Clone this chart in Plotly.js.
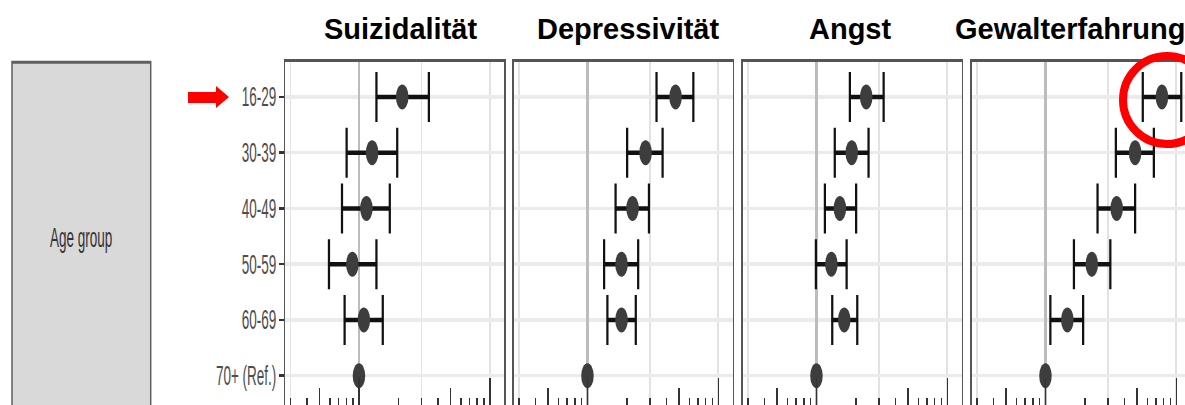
<!DOCTYPE html>
<html><head><meta charset="utf-8">
<script src="https://cdn.plot.ly/plotly-3.0.1.min.js"></script>
<style>
html,body{margin:0;padding:0;width:1185px;height:405px;overflow:hidden;background:#fff;}
#wrap{position:relative;width:1185px;height:405px;overflow:hidden;}
#base{position:absolute;left:0;top:0;width:2400px;height:430px;transform:scaleX(0.5);transform-origin:0 0;}
#over{position:absolute;left:0;top:0;width:1185px;height:405px;}
</style></head><body>
<div id="wrap"><div id="base"></div><div id="over"></div></div>
<script>
// ---------- data ----------
const ageGroups = ['16-29', '30-39', '40-49', '50-59', '60-69', '70+ (Ref.)'];
const refGroup = '70+ (Ref.)';
const outcomes = ['Suizidalität', 'Depressivität', 'Angst', 'Gewalterfahrung'];
const stripLabel = 'Age group';

const estSuizidalitaet  = [2.14, 1.26, 1.14, 0.89, 1.09, 1];
const lowSuizidalitaet  = [1.36, 0.805, 0.742, 0.59, 0.777, 1];
const highSuizidalitaet = [3.42, 1.96, 1.72, 1.36, 1.52, 1];

const estDepressivitaet  = [4.71, 2.78, 2.21, 1.82, 1.82, 1];
const lowDepressivitaet  = [3.37, 2.01, 1.64, 1.34, 1.42, 1];
const highDepressivitaet = [6.44, 3.75, 2.95, 2.44, 2.34, 1];

const estAngst  = [2.40, 1.86, 1.51, 1.30, 1.63, 1];
const lowAngst  = [1.80, 1.38, 1.16, 0.99, 1.32, 1];
const highAngst = [3.26, 2.50, 2.01, 1.70, 2.05, 1];

const estGewalt  = [7.76, 4.84, 3.50, 2.26, 1.47, 1];
const lowGewalt  = [5.54, 3.45, 2.50, 1.65, 1.09, 1];
const highGewalt = [10.9, 6.73, 4.84, 3.13, 1.94, 1];

const refValue   = [1];
const gridVals   = [0.3, 3, 10];
const shortTicks = [0.3, 0.4, 0.6, 0.7, 0.8, 0.9, 2, 3, 4, 6, 7, 8, 9];
const midTicks   = [0.5, 5];
const longTicks  = [1, 10];

const series = [
  [estSuizidalitaet, lowSuizidalitaet, highSuizidalitaet],
  [estDepressivitaet, lowDepressivitaet, highDepressivitaet],
  [estAngst, lowAngst, highAngst],
  [estGewalt, lowGewalt, highGewalt]
];

// ---------- base layer (horizontally squashed like the source image) ----------
const FW = 1200, FH = 430;
const panelLeft = [285, 513.5, 742.5, 971.5];
const panelW = 219;
const panelTop = 62.3, panelBottom = 410.3;
const xr = [-0.565, 1.108];
const yr = [5.62, -0.62];
const refIdx = ageGroups.indexOf(refGroup);

const traces = [];
const layout = {
  width: 2400, height: 430,
  margin: {l: 0, r: 0, t: 0, b: 0},
  paper_bgcolor: '#fff', plot_bgcolor: '#fff',
  showlegend: false,
  font: {family: 'Liberation Sans, Arial, sans-serif'},
  shapes: [{
    type: 'rect', xref: 'paper', yref: 'paper', layer: 'below',
    x0: 12 / FW, x1: 150.7 / FW, y0: -0.2, y1: 1 - 62.3 / FH,
    fillcolor: '#d9d9d9', line: {color: '#5f5f5f', width: 3}
  }],
  annotations: [{
    xref: 'paper', yref: 'paper', x: 81 / FW, y: 1 - 238 / FH,
    text: stripLabel, showarrow: false, xanchor: 'center', yanchor: 'middle',
    font: {size: 27, color: '#333'}
  }]
};

let ovN = 5;
series.forEach((s, i) => {
  const [est, low, high] = s;
  const xa = i === 0 ? 'x' : 'x' + (i + 1);
  const ya = i === 0 ? 'y' : 'y' + (i + 1);
  const xKey = i === 0 ? 'xaxis' : 'xaxis' + (i + 1);
  const yKey = i === 0 ? 'yaxis' : 'yaxis' + (i + 1);
  const rows = ageGroups.map((g, k) => k).filter(k => k !== refIdx);

  traces.push({
    type: 'scatter', mode: 'markers', xaxis: xa, yaxis: ya,
    x: rows.map(k => est[k]), y: rows.map(k => ageGroups[k]),
    marker: {size: 25, color: '#3d3d3d'},
    error_x: {type: 'data', symmetric: false,
      array: rows.map(k => high[k] - est[k]),
      arrayminus: rows.map(k => est[k] - low[k]),
      color: '#111', thickness: 4.5, width: 25},
    hoverinfo: 'skip'
  });
  traces.push({
    type: 'scatter', mode: 'markers', xaxis: xa, yaxis: ya,
    x: [est[refIdx]], y: [ageGroups[refIdx]],
    marker: {size: 25, color: '#3d3d3d'}, hoverinfo: 'skip'
  });

  const dom = [panelLeft[i] / FW, (panelLeft[i] + panelW) / FW];
  layout[xKey] = {
    type: 'log', domain: dom, range: xr, anchor: ya,
    tickmode: 'array', tickvals: gridVals, showticklabels: false, ticks: '',
    showgrid: true, gridcolor: '#e2e2e2', gridwidth: 3.5, zeroline: false,
    showline: true, mirror: true, linecolor: '#555', linewidth: 3
  };
  layout[yKey] = {
    type: 'category', categoryorder: 'array', categoryarray: ageGroups,
    domain: [1 - panelBottom / FH, 1 - panelTop / FH], range: yr, anchor: xa,
    showgrid: true, gridcolor: '#ebebeb', gridwidth: 3.5, zeroline: false,
    showline: true, mirror: true, linecolor: '#555', linewidth: 3,
    showticklabels: i === 0, ticks: i === 0 ? 'outside' : '',
    ticklen: 9, tickwidth: 2.5, tickcolor: '#333',
    tickfont: {size: 27, color: '#4d4d4d'}
  };

  const overlays = [
    {tickvals: refValue, showgrid: true, gridcolor: '#bcbcbc', gridwidth: 5, ticks: ''},
    {tickvals: shortTicks, showgrid: false, ticks: 'inside', ticklen: 12},
    {tickvals: midTicks, showgrid: false, ticks: 'inside', ticklen: 22},
    {tickvals: longTicks, showgrid: false, ticks: 'inside', ticklen: 32}
  ];
  overlays.forEach(o => {
    const name = 'x' + ovN;
    layout['xaxis' + ovN] = Object.assign({
      type: 'log', range: xr, anchor: ya, overlaying: xa, side: 'bottom',
      tickmode: 'array', showticklabels: false, zeroline: false, showline: false,
      tickwidth: 3, tickcolor: '#333'
    }, o);
    traces.push({type: 'scatter', mode: 'markers', x: [], y: [], xaxis: name, yaxis: ya, hoverinfo: 'skip'});
    ovN++;
  });
});

Plotly.newPlot('base', traces, layout, {staticPlot: true, displayModeBar: false});

// ---------- overlay layer: titles, arrow, circle ----------
const titleX = [400, 628, 850, 953];
const titleAnchor = ['center', 'center', 'center', 'left'];
const overLayout = {
  width: 1185, height: 405,
  margin: {l: 0, r: 0, t: 0, b: 0},
  paper_bgcolor: 'rgba(0,0,0,0)', plot_bgcolor: 'rgba(0,0,0,0)',
  showlegend: false,
  xaxis: {range: [0, 1185], visible: false, fixedrange: true},
  yaxis: {range: [405, 0], visible: false, fixedrange: true},
  annotations: outcomes.map((t, i) => ({
    xref: 'x', yref: 'y', x: titleX[i], y: 29, text: '<b>' + t + '</b>',
    showarrow: false, xanchor: titleAnchor[i], yanchor: 'middle',
    font: {family: 'Liberation Sans, Arial, sans-serif', size: 29, color: '#000'}
  })),
  shapes: [
    {type: 'path', xref: 'x', yref: 'y',
     path: 'M188,92 L216,92 L216,86 L229,97 L216,108 L216,103 L188,103 Z',
     fillcolor: '#ff0000', line: {width: 0}},
    {type: 'circle', xref: 'x', yref: 'y', x0: 1123, x1: 1211, y0: 56, y1: 144,
     line: {color: '#ff0000', width: 8}}
  ]
};
Plotly.newPlot('over', [], overLayout, {staticPlot: true, displayModeBar: false});
</script>
</body></html>
